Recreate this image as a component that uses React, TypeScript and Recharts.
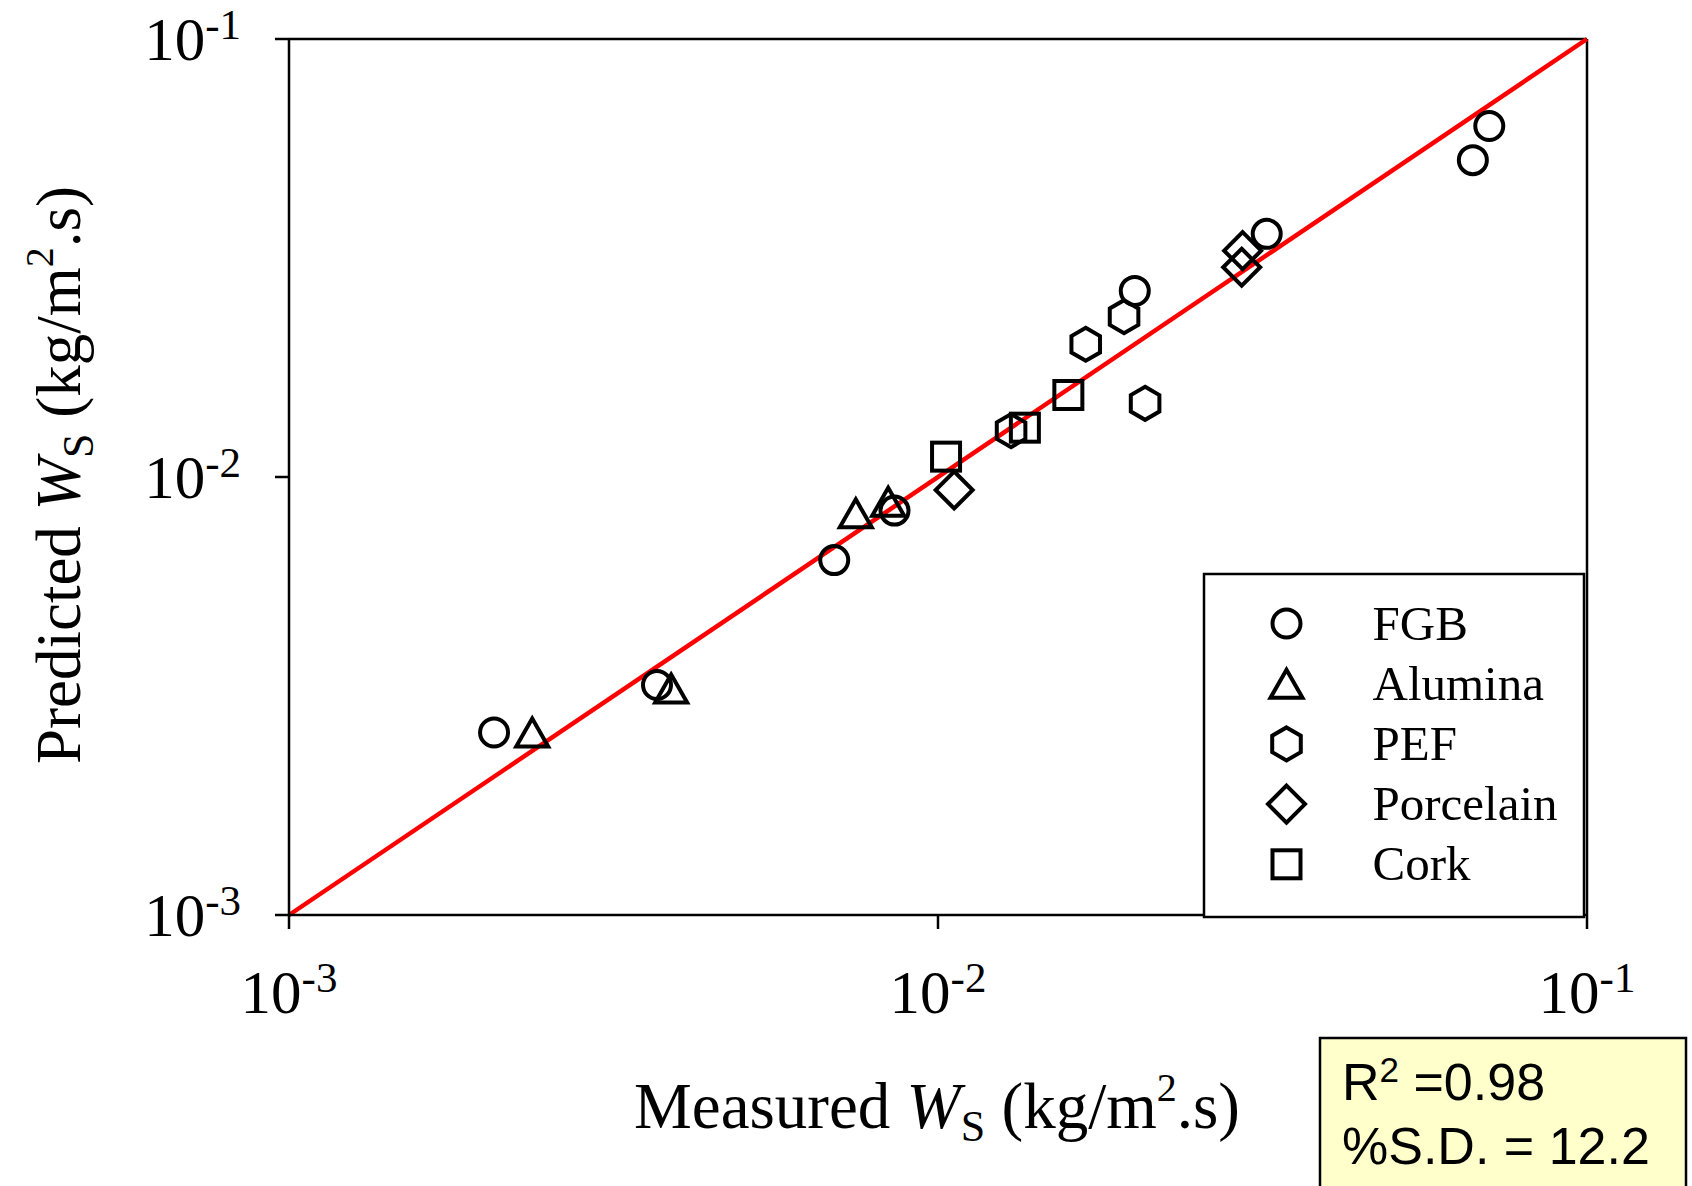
import {
  ScatterChart,
  Scatter,
  XAxis,
  YAxis,
  ReferenceLine,
  Legend,
  Label,
} from "recharts";

// measured (x) vs predicted (y) Ws, kg/m2.s
const fgbMeasured = [0.00207, 0.00369, 0.00692, 0.00857, 0.0201, 0.0321, 0.0667, 0.0707];
const fgbPredicted = [0.00261, 0.00335, 0.00646, 0.00838, 0.0266, 0.0359, 0.0529, 0.0633];

const aluminaMeasured = [0.00237, 0.00388, 0.00747, 0.00838];
const aluminaPredicted = [0.00261, 0.00329, 0.00826, 0.00878];

const pefMeasured = [0.01296, 0.01689, 0.01935, 0.02085];
const pefPredicted = [0.01276, 0.02009, 0.02323, 0.01473];

const porcelainMeasured = [0.01059, 0.02937, 0.02947];
const porcelainPredicted = [0.00934, 0.03012, 0.03286];

const corkMeasured = [0.01029, 0.01361, 0.01588];
const corkPredicted = [0.01113, 0.01296, 0.01539];

const axisTicks = [0.001, 0.01, 0.1];
const axisDomain: [number, number] = [0.001, 0.1];

const seriesNames = ["FGB", "Alumina", "PEF", "Porcelain", "Cork"];
const seriesShapes = ["circle", "triangle", "hexagon", "diamond", "square"];

const statsLines = ["0.98", "12.2"];

const SERIF = "'Liberation Serif', 'Times New Roman', serif";
const SANS = "'Liberation Sans', Arial, sans-serif";

const zip = (xs: number[], ys: number[]) => xs.map((x, i) => ({ x, y: ys[i] }));

const series = [
  zip(fgbMeasured, fgbPredicted),
  zip(aluminaMeasured, aluminaPredicted),
  zip(pefMeasured, pefPredicted),
  zip(porcelainMeasured, porcelainPredicted),
  zip(corkMeasured, corkPredicted),
];

function Marker({ kind, cx, cy }: { kind: string; cx: number; cy: number }) {
  const common = { fill: "none", stroke: "#000", strokeWidth: 4 };
  if (cx == null || cy == null) return null;
  switch (kind) {
    case "circle":
      return <circle cx={cx} cy={cy} r={14} {...common} />;
    case "triangle":
      return (
        <polygon
          points={`${cx},${cy - 14} ${cx + 16},${cy + 14} ${cx - 16},${cy + 14}`}
          {...common}
        />
      );
    case "hexagon": {
      const r = 16.5;
      const pts = [-90, -30, 30, 90, 150, 210]
        .map((a) => {
          const t = (a * Math.PI) / 180;
          return `${cx + r * Math.cos(t)},${cy + r * Math.sin(t)}`;
        })
        .join(" ");
      return <polygon points={pts} {...common} />;
    }
    case "diamond":
      return (
        <polygon
          points={`${cx},${cy - 18.5} ${cx + 18.5},${cy} ${cx},${cy + 18.5} ${cx - 18.5},${cy}`}
          {...common}
        />
      );
    default:
      return <rect x={cx - 14} y={cy - 14} width={28} height={28} {...common} />;
  }
}

const expOf = (v: number) => String(Math.round(Math.log10(v)));

function XTick(props: any) {
  const { x, y, payload } = props;
  return (
    <text x={x} y={y + 84} textAnchor="middle" fontFamily={SERIF} fontSize={61} fill="#000">
      10
      <tspan fontSize={43} dy={-21}>
        {expOf(payload.value)}
      </tspan>
    </text>
  );
}

function YTick(props: any) {
  const { x, y, payload } = props;
  return (
    <text x={x - 34} y={y + 21} textAnchor="end" fontFamily={SERIF} fontSize={61} fill="#000">
      10
      <tspan fontSize={43} dy={-21}>
        {expOf(payload.value)}
      </tspan>
    </text>
  );
}

function AxisTitle({ x, y, rotate, lead, size }: { x: number; y: number; rotate?: boolean; lead: string; size: number }) {
  return (
    <text
      x={x}
      y={y}
      textAnchor="middle"
      fontFamily={SERIF}
      fontSize={size}
      fill="#000"
      transform={rotate ? `rotate(-90, ${x}, ${y})` : undefined}
    >
      {lead + " "}
      <tspan fontStyle="italic">W</tspan>
      <tspan fontSize={44} dy={13}>
        S
      </tspan>
      <tspan dy={-13}>{" (kg/m"}</tspan>
      <tspan fontSize={40} dy={-27}>
        2
      </tspan>
      <tspan dy={27}>.s)</tspan>
    </text>
  );
}

function LegendBox() {
  return (
    <svg width={384} height={347} style={{ display: "block" }}>
      <rect x={2} y={2} width={380} height={343} fill="#fff" stroke="#000" strokeWidth={2.5} />
      {seriesNames.map((name, i) => {
        const cy = 51.5 + i * 60.2;
        return (
          <g key={name}>
            <Marker kind={seriesShapes[i]} cx={84.5} cy={cy} />
            <text x={170.5} y={cy + 16} fontFamily={SERIF} fontSize={49} fill="#000">
              {name}
            </text>
          </g>
        );
      })}
    </svg>
  );
}

export default function App() {
  return (
    <div
      style={{
        position: "absolute",
        left: 0,
        top: 0,
        width: 1692,
        height: 1186,
        background: "#fff",
        overflow: "hidden",
      }}
    >
      <ScatterChart width={1692} height={1186} margin={{ top: 39, right: 105, left: 0, bottom: 0 }}>
        <XAxis
          dataKey="x"
          type="number"
          scale="log"
          domain={axisDomain}
          ticks={axisTicks}
          allowDataOverflow
          height={271}
          tickSize={14}
          tickMargin={0}
          axisLine={{ stroke: "#000", strokeWidth: 2.5 }}
          tickLine={{ stroke: "#000", strokeWidth: 2.5 }}
          tick={<XTick />}
          interval={0}
        >
          <Label
            content={(p: any) => {
              const vb = p.viewBox || { x: 289, y: 915, width: 1298 };
              return <AxisTitle x={vb.x + vb.width / 2 - 1} y={vb.y + 213} lead="Measured" size={65} />;
            }}
          />
        </XAxis>
        <YAxis
          dataKey="y"
          type="number"
          scale="log"
          domain={axisDomain}
          ticks={axisTicks}
          allowDataOverflow
          width={289}
          tickSize={14}
          tickMargin={0}
          axisLine={{ stroke: "#000", strokeWidth: 2.5 }}
          tickLine={{ stroke: "#000", strokeWidth: 2.5 }}
          tick={<YTick />}
          interval={0}
        >
          <Label
            content={(p: any) => {
              const vb = p.viewBox || { x: 0, y: 39, height: 876 };
              return <AxisTitle x={80} y={vb.y + vb.height / 2 - 2} rotate lead="Predicted" size={63} />;
            }}
          />
        </YAxis>
        <ReferenceLine y={0.1} stroke="#000" strokeWidth={2.5} />
        <ReferenceLine x={0.1} stroke="#000" strokeWidth={2.5} />
        {series.map((data, i) => (
          <Scatter
            key={seriesNames[i]}
            name={seriesNames[i]}
            data={data}
            isAnimationActive={false}
            shape={(p: any) => <Marker kind={seriesShapes[i]} cx={p.cx} cy={p.cy} />}
          />
        ))}
        <ReferenceLine
          segment={[
            { x: axisDomain[0], y: axisDomain[0] },
            { x: axisDomain[1], y: axisDomain[1] },
          ]}
          stroke="#ff0000"
          strokeWidth={4.5}
        />
        <Legend
          layout="horizontal"
          verticalAlign="middle"
          align="center"
          content={() => <LegendBox />}
          wrapperStyle={{ position: "absolute", left: 1202, top: 572, width: 384, height: 347, margin: 0, padding: 0 }}
        />
      </ScatterChart>
      <svg width={374} height={150} style={{ position: "absolute", left: 1318, top: 1036 }}>
        <rect x={2} y={2} width={366} height={220} fill="#ffffcc" stroke="#000" strokeWidth={2.5} />
        <text x={24} y={64} fontFamily={SANS} fontSize={52} fill="#000">
          R
          <tspan fontSize={35} dy={-18}>
            2
          </tspan>
          <tspan dy={18}>{" =" + statsLines[0]}</tspan>
        </text>
        <text x={24} y={128} fontFamily={SANS} fontSize={52} fill="#000">
          {"%S.D. = " + statsLines[1]}
        </text>
      </svg>
    </div>
  );
}
